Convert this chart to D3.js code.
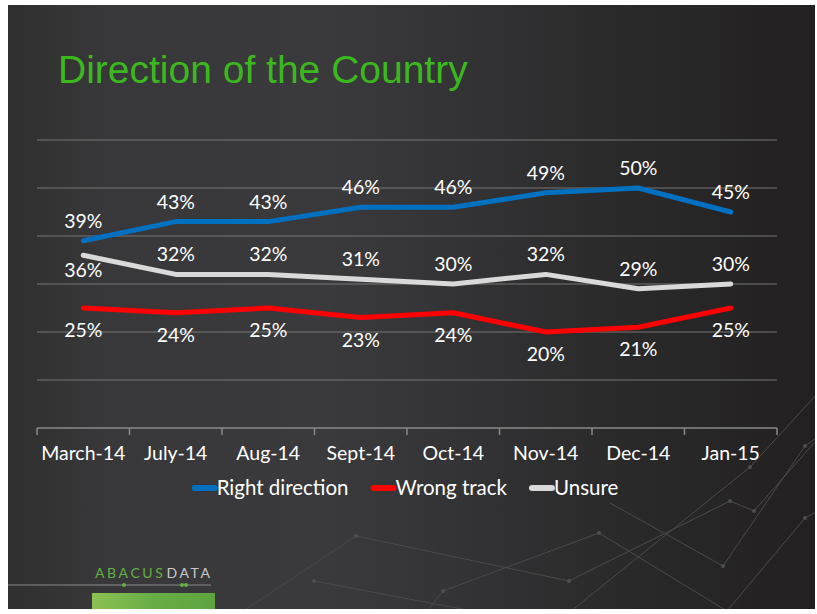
<!DOCTYPE html>
<html>
<head>
<meta charset="utf-8">
<script src="https://cdn.jsdelivr.net/npm/d3@7"></script>
<style>
    html, body { margin: 0; padding: 0; background: #fff; }
    svg { display: block; }
    text { font-family: Lato, "Open Sans", sans-serif; }
</style>
</head>
<body>
<svg class="chart"></svg>
<script>
// chart data
var categories = ['March-14', 'July-14', 'Aug-14', 'Sept-14', 'Oct-14', 'Nov-14', 'Dec-14', 'Jan-15'];
var rightDirection = [39, 43, 43, 46, 46, 49, 50, 45];
var wrongTrack = [25, 24, 25, 23, 24, 20, 21, 25];
var unsure = [36, 32, 32, 31, 30, 32, 29, 30];
var gridValues = [0, 10, 20, 30, 40, 50, 60];
var seriesNames = ['Right direction', 'Wrong track', 'Unsure'];

(function () {
    var width = 817, height = 614;

    // series drawing order: red, grey, blue on top
    var series = [
        { name: seriesNames[1], values: wrongTrack, color: '#ff0000', dy: 22 },
        { name: seriesNames[2], values: unsure, color: '#d9d9d9', dy: -20 },
        { name: seriesNames[0], values: rightDirection, color: '#0070c0', dy: -20 }
    ];

    var svg = d3.select('.chart')
        .attr('width', width)
        .attr('height', height);

    drawBackground(svg);

    // title
    svg.append('text')
        .attr('x', 58)
        .attr('y', 83)
        .style('font-family', '"Liberation Sans", Arial, sans-serif')
        .style('font-size', '39px')
        .attr('fill', '#3cb81f')
        .text('Direction of the Country');

    var x = d3.scaleBand()
        .domain(categories)
        .range([37, 777])
        .padding(0);

    var y = d3.scaleLinear()
        .domain([0, 60])
        .range([428, 140]);

    // horizontal grid lines
    svg.append('g')
        .selectAll('line')
        .data(gridValues.slice(1))
        .enter().append('line')
            .attr('x1', x.range()[0])
            .attr('x2', x.range()[1])
            .attr('y1', function (d) { return y(d); })
            .attr('y2', function (d) { return y(d); })
            .attr('stroke', '#777')
            .attr('stroke-width', 1);

    // category axis: labels from d3.axisBottom, boundary ticks drawn by hand
    var axis = svg.append('g')
        .attr('transform', 'translate(0,' + y(0) + ')')
        .call(d3.axisBottom(x).tickSize(0).tickPadding(18));
    axis.select('.domain').remove();
    axis.selectAll('text')
        .attr('fill', '#fff')
        .style('font-family', 'Lato, sans-serif')
        .style('font-size', '19.5px');

    svg.append('line')
        .attr('x1', x.range()[0])
        .attr('x2', x.range()[1])
        .attr('y1', y(0))
        .attr('y2', y(0))
        .attr('stroke', '#8a8a8a')
        .attr('stroke-width', 1.5);

    svg.append('g')
        .selectAll('line')
        .data(categories.concat(['end']))
        .enter().append('line')
            .attr('x1', function (d) { return d === 'end' ? x.range()[1] : x(d); })
            .attr('x2', function (d) { return d === 'end' ? x.range()[1] : x(d); })
            .attr('y1', y(0))
            .attr('y2', y(0) + 7)
            .attr('stroke', '#8a8a8a')
            .attr('stroke-width', 1.5);

    // series lines
    var line = d3.line()
        .x(function (d, i) { return x(categories[i]) + x.bandwidth() / 2; })
        .y(function (d) { return y(d); });

    svg.append('g')
        .selectAll('path')
        .data(series)
        .enter().append('path')
            .attr('d', function (s) { return line(s.values); })
            .attr('fill', 'none')
            .attr('stroke', function (s) { return s.color; })
            .attr('stroke-width', 5)
            .attr('stroke-linecap', 'round')
            .attr('stroke-linejoin', 'round');

    // data labels
    series.forEach(function (s) {
        svg.append('g')
            .selectAll('text')
            .data(s.values)
            .enter().append('text')
                .attr('x', function (d, i) { return x(categories[i]) + x.bandwidth() / 2; })
                .attr('y', function (d, i) {
                    // the first "Unsure" label sits below its point
                    var off = (s.values === unsure && i === 0) ? 15 : s.dy;
                    return y(d) + off;
                })
                .attr('dy', '0.36em')
                .attr('text-anchor', 'middle')
                .attr('fill', '#fff')
                .style('font-size', '19.5px')
                .text(function (d) { return d + '%'; });
    });

    // legend
    var legendOrder = [series[2], series[0], series[1]];
    var legend = svg.append('g').attr('transform', 'translate(0,488)');
    var item = legend.selectAll('g')
        .data(legendOrder)
        .enter().append('g');
    item.append('line')
        .attr('x1', 3).attr('x2', 23)
        .attr('stroke', function (s) { return s.color; })
        .attr('stroke-width', 6)
        .attr('stroke-linecap', 'round');
    item.append('text')
        .attr('x', 25)
        .attr('dy', '0.36em')
        .attr('fill', '#fff')
        .style('font-size', '20.5px')
        .text(function (s) { return s.name; });

    // lay the legend items out in a row centred under the plot
    var gap = 22, offsets = [], total = 0;
    item.each(function () {
        var w = 25 + this.querySelector('text').getComputedTextLength();
        offsets.push(total);
        total += w + gap;
    });
    total -= gap;
    var start = 405 - total / 2;
    item.attr('transform', function (d, i) { return 'translate(' + (start + offsets[i]) + ',0)'; });

    drawLogo(svg);

    // slide background with faint decorative network lines
    function drawBackground(svg) {
        var defs = svg.append('defs');
        var grad = defs.append('linearGradient')
            .attr('id', 'bg')
            .attr('x1', 0).attr('x2', 1).attr('y1', 0).attr('y2', 0);
        grad.append('stop').attr('offset', 0).attr('stop-color', '#2f2f2f');
        grad.append('stop').attr('offset', 0.12).attr('stop-color', '#38383a');
        grad.append('stop').attr('offset', 0.4).attr('stop-color', '#3a393c');
        grad.append('stop').attr('offset', 0.75).attr('stop-color', '#2b2a2b');
        grad.append('stop').attr('offset', 1).attr('stop-color', '#222021');

        var lg = defs.append('linearGradient')
            .attr('id', 'logoGreen')
            .attr('x1', 0).attr('x2', 1).attr('y1', 0).attr('y2', 0);
        lg.append('stop').attr('offset', 0).attr('stop-color', '#8cc152');
        lg.append('stop').attr('offset', 0.5).attr('stop-color', '#68ad46');
        lg.append('stop').attr('offset', 1).attr('stop-color', '#5fa53f');

        defs.append('clipPath').attr('id', 'slide')
            .append('rect').attr('x', 8).attr('y', 5).attr('width', 807).attr('height', 604);

        svg.append('rect')
            .attr('x', 8).attr('y', 5)
            .attr('width', 807).attr('height', 604)
            .attr('fill', 'url(#bg)');

        var deco = [
            [[230, 620], [356, 536], [569, 581], [730, 501], [754, 511], [830, 425]],
            [[314, 581], [520, 620]],
            [[420, 620], [443, 591], [599, 533], [727, 611], [805, 518], [830, 505]],
            [[560, 620], [750, 467], [830, 380]],
            [[610, 503], [723, 566], [805, 446], [830, 428]]
        ];
        var g = svg.append('g').attr('clip-path', 'url(#slide)');
        g.selectAll('path')
            .data(deco)
            .enter().append('path')
                .attr('d', d3.line())
                .attr('fill', 'none')
                .attr('stroke', '#4a4a4b')
                .attr('stroke-width', 1);
        var dots = [];
        deco.forEach(function (p) { p.slice(1, -1).forEach(function (q) { dots.push(q); }); });
        dots.push([314, 581]);
        g.selectAll('circle')
            .data(dots)
            .enter().append('circle')
                .attr('cx', function (d) { return d[0]; })
                .attr('cy', function (d) { return d[1]; })
                .attr('r', 2)
                .attr('fill', '#4f4f50');
    }

    // "ABACUS DATA" logo in the bottom-left corner
    function drawLogo(svg) {
        var t = svg.append('text')
            .attr('x', 95)
            .attr('y', 578)
            .style('font-size', '14px')
            .style('letter-spacing', '2.6px');
        t.append('tspan').attr('fill', '#63b043').text('ABACUS');
        t.append('tspan').attr('fill', '#c8c8c8').attr('dx', '1px').text('DATA');

        svg.append('line')
            .attr('x1', 8).attr('x2', 211)
            .attr('y1', 585).attr('y2', 585)
            .attr('stroke', '#8a8a8a')
            .attr('stroke-width', 1);
        [124, 182, 186].forEach(function (cx) {
            svg.append('circle')
                .attr('cx', cx).attr('cy', 585).attr('r', 2)
                .attr('fill', '#63b043');
        });

        svg.append('rect')
            .attr('x', 92).attr('y', 593)
            .attr('width', 123).attr('height', 16)
            .attr('fill', 'url(#logoGreen)');
    }
}());
</script>
</body>
</html>
